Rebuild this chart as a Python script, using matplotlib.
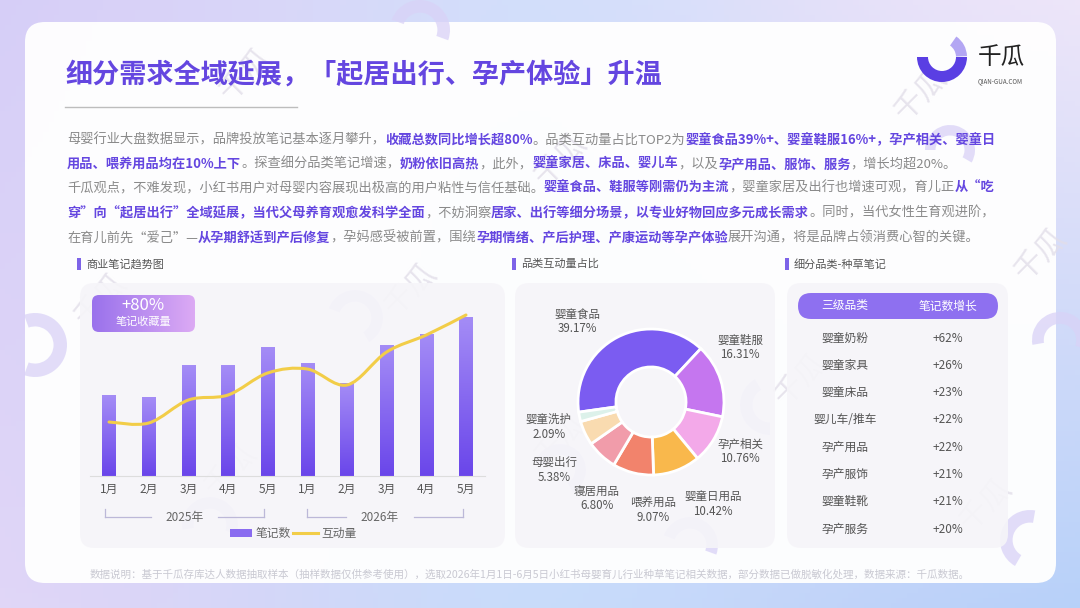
import numpy as np
import matplotlib
matplotlib.use("Agg")
import matplotlib.pyplot as plt
from matplotlib.patches import FancyBboxPatch, Rectangle, Wedge, PathPatch
from matplotlib.path import Path
from matplotlib import transforms

plt.rcParams['font.family'] = ['Noto Sans CJK SC', 'DejaVu Sans']

W, H = 1080, 608

# ---- data ----
months = ["1月", "2月", "3月", "4月", "5月", "1月", "2月", "3月", "4月", "5月"]
years = ["2025年", "2026年"]
notes = [81, 79, 111, 111, 129, 113, 93, 131, 142, 159]        # 笔记数 (relative)
interact = [54, 53, 76, 81, 103, 107, 91, 124, 141, 161]      # 互动量 (relative)

pie_labels = ["婴童食品", "婴童鞋服", "孕产相关", "婴童日用品", "喂养用品", "寝居用品", "母婴出行", "婴童洗护"]
pie_values = [39.17, 16.31, 10.76, 10.42, 9.07, 6.80, 5.38, 2.09]
pie_colors = ["#7b5cf1", "#c576ef", "#f3a9e9", "#f9b84c", "#f2836c", "#f19caa", "#f9dbb0", "#dcf1ea"]

table_cats = ["婴童奶粉", "婴童家具", "婴童床品", "婴儿车/推车", "孕产用品", "孕产服饰", "婴童鞋靴", "孕产服务"]
table_growth = ["+62%", "+26%", "+23%", "+22%", "+22%", "+21%", "+21%", "+20%"]

PURPLE = "#6446e0"
GRAY = "#8a8a8a"

fig = plt.figure(figsize=(W / 100, H / 100), dpi=100)
bg = fig.add_axes([0, 0, 1, 1])
bg.set_xlim(0, W)
bg.set_ylim(H, 0)
bg.axis("off")


def px_axes(x0, y0, x1, y1):
    a = fig.add_axes([x0 / W, 1 - y1 / H, (x1 - x0) / W, (y1 - y0) / H])
    a.patch.set_alpha(0)
    return a


# background gradient
gx = np.linspace(0, 1, 200)[None, :, None]
gy = np.linspace(0, 1, 120)[:, None, None]
c_tl = np.array([0.84, 0.81, 0.97])
c_tr = np.array([0.93, 0.90, 0.98])
c_bl = np.array([0.88, 0.84, 0.97])
c_br = np.array([0.72, 0.82, 0.98])
c_mid = np.array([0.77, 0.89, 0.99])
grad = (c_tl * (1 - gx) * (1 - gy) + c_tr * gx * (1 - gy) + c_bl * (1 - gx) * gy + c_br * gx * gy)
bump = np.exp(-((gx - 0.5) ** 2) / 0.05)
grad = grad * (1 - 0.5 * bump) + c_mid * 0.5 * bump
bg.imshow(grad, extent=(0, W, H, 0), aspect="auto", zorder=0)

# main card
bg.add_patch(FancyBboxPatch((25, 22), 1031, 561, boxstyle="round,pad=0,rounding_size=20",
                            fc="white", ec="none", alpha=0.96, zorder=1))

# watermarks (faint arcs + rotated logo text)
wm_arcs = [(420, 30, 30, 200, 20), (35, 345, 32, 250, 110), (355, 318, 28, 200, 60),
           (210, 525, 28, 170, 20), (770, 405, 30, 90, 240), (1060, 340, 28, 170, 20),
           (1030, 540, 30, 120, 280), (690, 545, 28, 200, 20), (560, 470, 26, 200, 60),
           (950, 150, 25, 180, 30)]
for cx, cy, r, a1, a2 in wm_arcs:
    bg.add_patch(Wedge((cx, cy), r, a1, a2, width=r * 0.42, fc="#d9d2f7", ec="none",
                       alpha=0.75, zorder=1.2))
wm_text = [(245, 75), (100, 300), (410, 290), (230, 470), (560, 160), (800, 380),
           (920, 95), (1040, 255), (985, 505), (560, 440)]
for tx, ty in wm_text:
    bg.text(tx, ty, "千瓜", fontsize=22, color="#e2dee9", rotation=45, ha="center",
            va="center", zorder=1.3, alpha=0.8)

# title
bg.text(65, 75, "细分需求全域延展，「起居出行、孕产体验」升温", fontsize=19.5, fontweight="bold",
        color=PURPLE, va="center", zorder=3)
bg.plot([65, 297], [107, 107], color="#bdbdbd", lw=1, zorder=3)

# logo (y axis is inverted here, so 0-180 is the lower half)
bg.add_patch(Wedge((942, 57), 25, 0, 180, width=11, fc="#5a3fe3", ec="none", zorder=3))
bg.add_patch(Wedge((942, 57), 25, 305, 358, width=11, fc="#b3a6f3", ec="none", zorder=3))
bg.text(978, 57, "千瓜", fontsize=17, color="#222222", va="center", zorder=3)
bg.text(978, 81, "QIAN-GUA.COM", fontsize=4.5, color="#555555", va="center", zorder=3)

# paragraph with mixed bold/normal segments
paragraph = [
    [("母婴行业大盘数据显示，品牌投放笔记基本逐月攀升，", 0), ("收藏总数同比增长超80%", 1),
     ("。品类互动量占比TOP2为", 0), ("婴童食品39%+、婴童鞋服16%+，孕产相关、婴童日", 1)],
    [("用品、喂养用品均在10%上下", 1), ("。探查细分品类笔记增速，", 0), ("奶粉依旧高热", 1),
     ("，此外，", 0), ("婴童家居、床品、婴儿车", 1), ("，以及", 0), ("孕产用品、服饰、服务", 1),
     ("，增长均超20%。", 0)],
    [("千瓜观点，不难发现，小红书用户对母婴内容展现出极高的用户粘性与信任基础。", 0),
     ("婴童食品、鞋服等刚需仍为主流", 1), ("，婴童家居及出行也增速可观，育儿正", 0), ("从“吃", 1)],
    [("穿”向“起居出行”全域延展，当代父母养育观愈发科学全面", 1), ("，不妨洞察", 0),
     ("居家、出行等细分场景，以专业好物回应多元成长需求", 1), ("。同时，当代女性生育观进阶，", 0)],
    [("在育儿前先“爱己”—", 0), ("从孕期舒适到产后修复", 1), ("，孕妈感受被前置，围绕", 0),
     ("孕期情绪、产后护理、产康运动等孕产体验", 1), ("展开沟通，将是品牌占领消费心智的关键。", 0)],
]
renderer = fig.canvas.get_renderer()
line_y = [140, 164, 188, 213, 238]
for segs, yy in zip(paragraph, line_y):
    x = 67
    for s, b in segs:
        t = bg.text(x, yy, s, fontsize=9.5, va="center", zorder=3,
                    color=PURPLE if b else GRAY, fontweight="bold" if b else "normal")
        x += t.get_window_extent(renderer).width

# section headers and panels
for hx, label in [(77, "商业笔记趋势图"), (512, "品类互动量占比"), (785, "细分品类-种草笔记")]:
    bg.add_patch(Rectangle((hx, 258), 3.5, 12, fc="#7d63e8", ec="none", zorder=3))
    bg.text(hx + 9, 264, label, fontsize=8, color="#555555", va="center", zorder=3)
for x0, x1 in [(80, 505), (515, 775), (787, 1008)]:
    bg.add_patch(FancyBboxPatch((x0, 283), x1 - x0, 265, boxstyle="round,pad=0,rounding_size=14",
                                fc="#f6f5f9", ec="none", alpha=0.9, zorder=2))

# ---- bar + line chart ----
ax = px_axes(90, 296, 485, 476)
ax.set_zorder(4)
xs = np.arange(len(notes))
bar_grad = np.linspace(0, 1, 100)[:, None]
bar_cmap = matplotlib.colors.LinearSegmentedColormap.from_list("b", ["#a48cf6", "#6a46ea"])
bars = ax.bar(xs, notes, width=0.33, color="#8a6cf0", zorder=2)
for b in bars:
    x0, y0, w, h = b.get_x(), b.get_y(), b.get_width(), b.get_height()
    im = ax.imshow(bar_grad, cmap=bar_cmap, extent=(x0, x0 + w, y0, y0 + h), aspect="auto",
                   origin="upper", zorder=2.1)
    im.set_clip_path(b)
# smooth line through interaction values (Catmull-Rom as Bezier path)
pts = np.column_stack([xs, interact]).astype(float)
ext = np.vstack([pts[0], pts, pts[-1]])
verts = [tuple(pts[0])]
codes = [Path.MOVETO]
for i in range(len(pts) - 1):
    p0, p1, p2, p3 = ext[i], ext[i + 1], ext[i + 2], ext[i + 3]
    verts += [tuple(p1 + (p2 - p0) / 6), tuple(p2 - (p3 - p1) / 6), tuple(p2)]
    codes += [Path.CURVE4] * 3
ax.add_patch(PathPatch(Path(verts, codes), fc="none", ec="#f2cd48", lw=2.2, zorder=3,
                       capstyle="round"))
ax.set_xlim(-0.48, 9.48)
ax.set_ylim(0, 180)
ax.set_xticks(xs)
ax.set_xticklabels(months, fontsize=8.5, color="#555555")
ax.tick_params(length=0, pad=5)
ax.set_yticks([])
for s in ["top", "right", "left"]:
    ax.spines[s].set_visible(False)
ax.spines["bottom"].set_color("#dddddd")

# year brackets
bt = transforms.blended_transform_factory(ax.transData, bg.transData)
for (a, b_), yl, cxl in [((-0.1, 3.9), years[0], 1.9), ((5.0, 8.92), years[1], 6.83)]:
    for seg in [(a, cxl - 0.85), (cxl + 0.85, b_)]:
        ax.plot(seg, [517, 517], color="#bcb8d8", lw=0.9, transform=bt, clip_on=False)
    for e in (a, b_):
        ax.plot([e, e], [509, 517], color="#bcb8d8", lw=0.9, transform=bt, clip_on=False)
    ax.text(cxl, 517, yl, fontsize=8.5, color="#666666", ha="center", va="center",
            transform=bt, clip_on=False)

# legend
bg.add_patch(Rectangle((230, 529), 22, 8, fc="#8a6cf0", ec="none", zorder=3))
bg.text(256, 533, "笔记数", fontsize=8.5, color="#666666", va="center", zorder=3)
bg.plot([293, 318], [533, 533], color="#f2cd48", lw=2.2, zorder=3)
bg.text(321, 533, "互动量", fontsize=8.5, color="#666666", va="center", zorder=3)

# +80% badge
badge = FancyBboxPatch((92, 295), 103, 37, boxstyle="round,pad=0,rounding_size=7",
                       fc="none", ec="none", zorder=5)
bg.add_patch(badge)
bim = bg.imshow(np.linspace(0, 1, 100)[None, :],
                cmap=matplotlib.colors.LinearSegmentedColormap.from_list("g", ["#9a72ec", "#dcaaf4"]),
                extent=(92, 195, 332, 295), aspect="auto", zorder=5)
bim.set_clip_path(badge)
bg.text(143, 306, "+80%", fontsize=12, color="white", ha="center", va="center", zorder=6)
bg.text(143, 322, "笔记收藏量", fontsize=8, color="white", ha="center", va="center", zorder=6)

# ---- donut ----
R = 73
pa = px_axes(651 - 2 * R, 402 - 2 * R, 651 + 2 * R, 402 + 2 * R)
pa.set_zorder(4)
pa.pie(pie_values, colors=pie_colors, startangle=188, counterclock=False, radius=1,
       wedgeprops=dict(width=0.52, edgecolor="white", linewidth=2))
pa.set_xlim(-2, 2)
pa.set_ylim(-2, 2)
pa.set_aspect("equal")
pa.axis("off")
label_xy = [(-1.01, 1.10), (1.22, 0.75), (1.22, -0.67), (0.85, -1.40),
            (0.03, -1.48), (-0.74, -1.32), (-1.32, -0.93), (-1.40, -0.34)]
for (lx, ly), name, v in zip(label_xy, pie_labels, pie_values):
    pa.text(lx, ly, f"{name}\n{v:.2f}%", fontsize=8.3, color="#555555", ha="center",
            va="center", linespacing=1.15, clip_on=False)

# ---- table ----
bg.add_patch(FancyBboxPatch((798, 293), 200, 26, boxstyle="round,pad=0,rounding_size=13",
                            fc="#8e70f0", ec="none", zorder=3))
bg.text(845, 306, "三级品类", fontsize=8.5, color="white", ha="center", va="center", zorder=4)
bg.text(948, 306, "笔记数增长", fontsize=8.5, color="white", ha="center", va="center", zorder=4)
for i, (c, g) in enumerate(zip(table_cats, table_growth)):
    yy = 338 + i * 27.3
    bg.text(845, yy, c, fontsize=8.5, color="#555555", ha="center", va="center", zorder=4)
    bg.text(948, yy, g, fontsize=8.5, color="#555555", ha="center", va="center", zorder=4)

# footer
bg.text(90, 574, "数据说明：基于千瓜存库达人数据抽取样本（抽样数据仅供参考使用），选取2026年1月1日-6月5日"
                 "小红书母婴育儿行业种草笔记相关数据，部分数据已做脱敏化处理，数据来源：千瓜数据。",
        fontsize=7.6, color="#c9c9d2", va="center", zorder=3)

fig.savefig("out.png", dpi=100)
